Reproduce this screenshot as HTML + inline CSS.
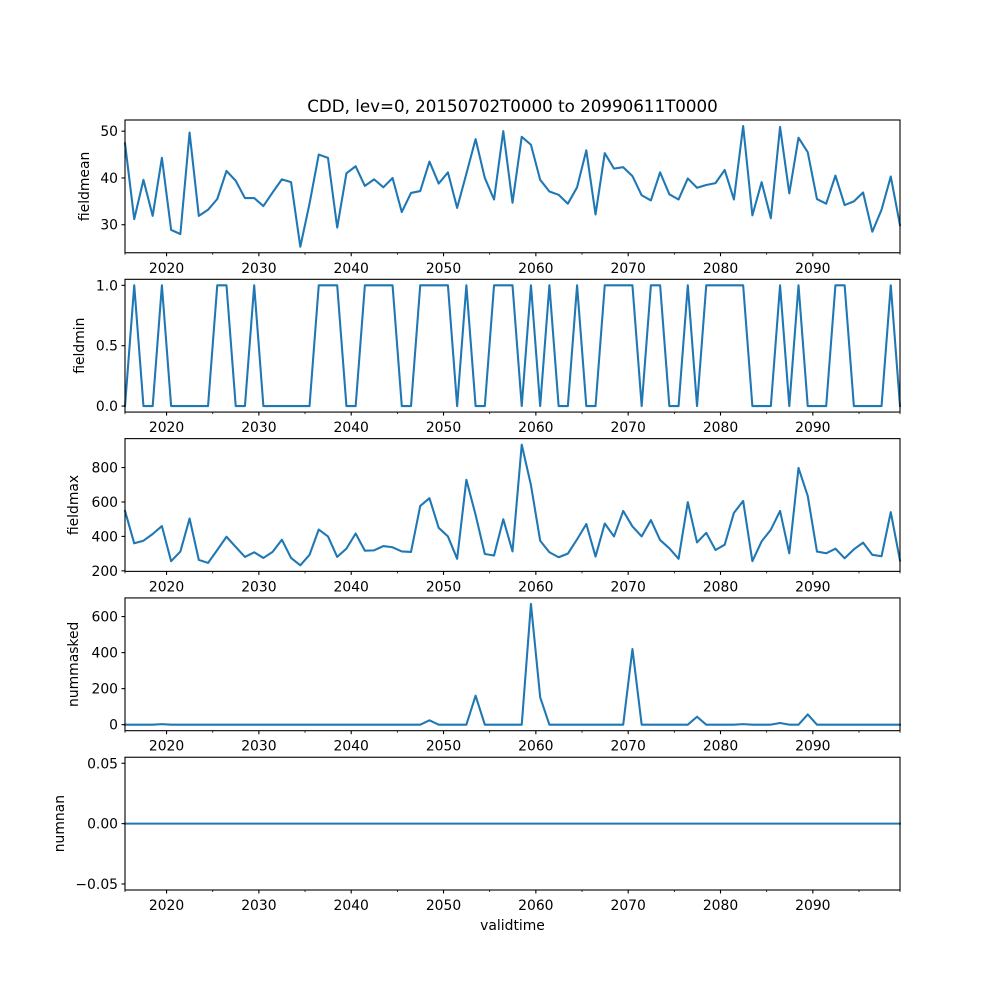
<!DOCTYPE html>
<html><head><meta charset="utf-8"><style>
html,body{margin:0;padding:0;background:#fff;}
svg{display:block;font-family:"DejaVu Sans","Liberation Sans",sans-serif;}
</style></head><body>
<svg id="fig" width="1000" height="1000" viewBox="0 0 1000 1000" xmlns="http://www.w3.org/2000/svg">
<rect width="1000" height="1000" fill="#fff"/>
<text x="512.5" y="112" text-anchor="middle" font-size="16.7">CDD, lev=0, 20150702T0000 to 20990611T0000</text>
<text x="512.5" y="930" text-anchor="middle" font-size="13.9">validtime</text>
</svg>
<script>
const fieldmean=[47.4,31.2,39.6,31.9,44.3,28.9,28.0,49.7,31.9,33.2,35.5,41.5,39.4,35.7,35.7,34.0,36.9,39.7,39.1,25.3,34.5,45.0,44.3,29.4,41.0,42.5,38.3,39.7,38.0,40.0,32.7,36.8,37.2,43.5,38.8,41.2,33.6,40.9,48.3,40.0,35.4,50.0,34.7,48.8,47.1,39.6,37.1,36.4,34.5,38.0,45.9,32.2,45.3,42.0,42.3,40.4,36.3,35.2,41.2,36.5,35.4,39.9,37.9,38.5,38.9,41.7,35.4,51.1,32.0,39.1,31.4,50.9,36.7,48.6,45.5,35.5,34.5,40.5,34.2,35.0,36.9,28.5,33.2,40.3,29.9];
const fieldmin=[0,1,0,0,1,0,0,0,0,0,1,1,0,0,1,0,0,0,0,0,0,1,1,1,0,0,1,1,1,1,0,0,1,1,1,1,0,1,0,0,1,1,1,0,1,0,1,0,0,1,0,0,1,1,1,1,0,1,1,0,0,1,0,1,1,1,1,1,0,0,0,1,0,1,0,0,0,1,1,0,0,0,0,1,0];
const fieldmax=[548,360,375,414,460,256,312,504,264,246,321,398,339,281,308,275,310,381,275,232,293,440,400,281,329,417,317,319,344,337,313,310,577,622,450,400,270,729,525,298,289,500,313,933,698,375,308,279,300,383,472,283,475,400,548,458,400,495,379,331,270,599,365,421,321,352,537,606,256,371,439,548,302,798,635,312,302,329,273,325,364,293,285,541,260];
const nummasked=[0,0,0,0,3,0,0,0,0,0,0,0,0,0,0,0,0,0,0,0,0,0,0,0,0,0,0,0,0,0,0,0,0,24,0,0,0,0,161,0,0,0,0,0,670,152,0,0,0,0,0,0,0,0,0,420,0,0,0,0,0,0,44,0,0,0,0,3,0,0,0,9,0,0,57,0,0,0,0,0,0,0,0,0,0];
const numnan=new Array(85).fill(0);
const xTickYears=[2020,2030,2040,2050,2060,2070,2080,2090];
const xMinorYears=[2025,2035,2045,2055,2065,2075,2085,2095];
const ticks1=[30,40,50], ticks2=[0,0.5,1], ticks3=[200,400,600,800], ticks4=[0,200,400,600], ticks5=[-0.05,0,0.05];
const labels1=["30","40","50"], labels2=["0.0","0.5","1.0"], labels3=["200","400","600","800"], labels4=["0","200","400","600"], labels5=["\u22120.05","0.00","0.05"];

const NS="http://www.w3.org/2000/svg";
const svg=document.getElementById('fig');
const L=125,R=900,X0=2015.5,X1=2099.44;
const xs=y=>L+(y-X0)/(X1-X0)*(R-L);
const yearOf=i=>X0+i*(X1-X0)/84;
function el(tag,attrs,parent){const e=document.createElementNS(NS,tag);for(const k in attrs)e.setAttribute(k,attrs[k]);(parent||svg).appendChild(e);return e;}
const panels=[
 {d:fieldmean,t:ticks1,l:labels1,name:"fieldmean",lx:89},
 {d:fieldmin,t:ticks2,l:labels2,name:"fieldmin",lx:84},
 {d:fieldmax,t:ticks3,l:labels3,name:"fieldmax",lx:78},
 {d:nummasked,t:ticks4,l:labels4,name:"nummasked",lx:78},
 {d:numnan,t:ticks5,l:labels5,name:"numnan",lx:64}
];
const H=770/5.8, GAP=H*0.2;
panels.forEach((p,k)=>{
 const top=120+k*(H+GAP), bot=top+H;
 let mn=Math.min(...p.d), mx=Math.max(...p.d);
 let lo,hi;
 if(mx===mn){lo=mn-0.055;hi=mx+0.055;}else{const m=(mx-mn)*0.05;lo=mn-m;hi=mx+m;}
 const ys=v=>bot-(v-lo)/(hi-lo)*H;
 const g=el('g',{});
 
 
 const pts=p.d.map((v,i)=>xs(yearOf(i)).toFixed(2)+','+ys(v).toFixed(2)).join(' ');
 const line=el('polyline',{points:pts,fill:'none',stroke:'#1f77b4','stroke-width':2.08,'stroke-linejoin':'round','stroke-linecap':'square'},g);
 
 
 const frame=el('rect',{x:L,y:top,width:R-L,height:H,fill:'none',stroke:'#000','stroke-width':1.1},g);
 
 
 p.t.forEach((t,j)=>{
  const yy=ys(t);
  el('line',{x1:L-3.5,x2:L,y1:yy,y2:yy,stroke:'#000','stroke-width':1.1},g);
  const tx=el('text',{x:L-7,y:yy+5,'text-anchor':'end','font-size':13.9},g);
  tx.textContent=p.l[j];
  
  
 });
 xTickYears.forEach(yr=>{
  const xx=xs(yr);
  el('line',{x1:xx,x2:xx,y1:bot,y2:bot+3.5,stroke:'#000','stroke-width':1.1},g);
  const tx=el('text',{x:xx,y:bot+20,'text-anchor':'middle','font-size':13.9},g);
  tx.textContent=String(yr);
  
  
 });
 xMinorYears.concat([X0,X1]).forEach(yr=>{
  const xx=xs(yr);
  el('line',{x1:xx,x2:xx,y1:bot,y2:bot+2,stroke:'#000','stroke-width':0.8},g);
 });
 const yl=el('text',{x:p.lx,y:(top+bot)/2,'text-anchor':'middle','font-size':13.9,transform:`rotate(-90 ${p.lx} ${(top+bot)/2})`},g);
 yl.textContent=p.name;
 
 
});
</script>
</body></html>
